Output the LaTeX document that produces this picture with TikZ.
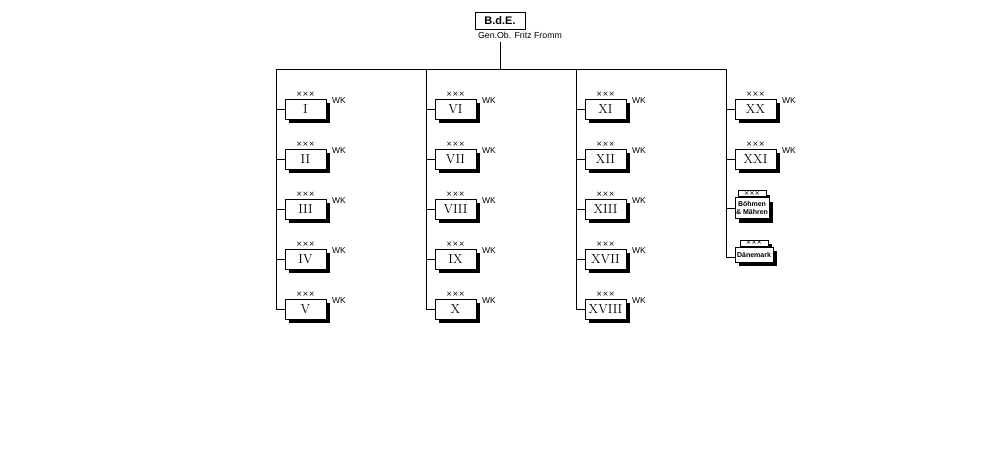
\documentclass[tikz,border=0pt]{standalone}
\usepackage{fontspec}
\newfontfamily\lsans{Liberation Sans}
\newfontfamily\dsans{DejaVu Sans}
\usetikzlibrary{shadows}
\begin{document}
\begin{tikzpicture}[x=1pt,y=-1pt,line width=1pt,
  shad/.style={general shadow={fill=black,shadow xshift=4pt,shadow yshift=-4pt}},
  corps/.style={draw,fill=white,minimum width=41pt,minimum height=20pt,inner sep=0pt,
    font=\fontsize{13}{13}\selectfont,shad},
  xxx/.style={font=\dsans\fontsize{7.5}{7.5}\selectfont,inner sep=0pt},
  wk/.style={font=\lsans\fontsize{8.5}{8.5}\selectfont,inner sep=0pt,anchor=north west},
  tag/.style={draw,fill=white,minimum width=28pt,minimum height=6pt,inner sep=0pt,
    font=\dsans\fontsize{6.5}{6.5}\selectfont,shad,anchor=south},
  wide/.style={draw,fill=white,inner sep=0pt,shad,
    font=\lsans\bfseries\fontsize{7}{7.6}\selectfont,align=center}]
\useasboundingbox[fill=white] (0,0) rectangle (1000,450);

% top
\node[draw,minimum width=50pt,minimum height=17pt,inner sep=0pt,
  font=\lsans\bfseries\fontsize{11}{11}\selectfont] (bde) at (500,21) {B.d.E.};
\node[font=\lsans\fontsize{8.8}{8.8}\selectfont,inner sep=0pt] (ff) at (520,35.5) {Gen.Ob. Fritz Fromm};
\coordinate (stem) at (500,42);
\coordinate (h0) at (276,69);
\coordinate (h1) at (426,69);
\coordinate (h2) at (576,69);
\coordinate (h3) at (726,69);
\draw (stem) -- (stem |- h0);
\draw (h0) -- (h3);

% corps
\foreach \lab/\c/\r in {I/0/0,II/0/1,III/0/2,IV/0/3,V/0/4,
  VI/1/0,VII/1/1,VIII/1/2,IX/1/3,X/1/4,
  XI/2/0,XII/2/1,XIII/2/2,XVII/2/3,XVIII/2/4,
  XX/3/0,XXI/3/1}{
  \node[corps] (k\c\r) at (305.5+150*\c,109+50*\r) {\lab};
  \node[xxx,above=2pt] (x\c\r) at (k\c\r.north) {×××};
  \node[wk] (w\c\r) at ([xshift=5pt,yshift=1pt]k\c\r.north east) {WK};
  \draw (k\c\r.west) -| (h\c);
}

% Boehmen & Maehren
\node[wide,minimum width=34pt,minimum height=21pt] (bm) at (752,208) {Böhmen\\\& Mähren};
\node[tag] (bmx) at (bm.north) {×××};
\node[wide,minimum width=34pt,minimum height=21pt] at (752,208) {Böhmen\\\& Mähren};
\draw (bm.west) -| (h3);

% Daenemark
\node[wide,minimum width=38pt,minimum height=15pt] (dan) at (754,254.5) {Dänemark};
\node[tag] (danx) at (dan.north) {×××};
\node[wide,minimum width=38pt,minimum height=15pt] at (754,254.5) {Dänemark};
\draw ([yshift=-2.5pt]dan.west) -| (h3);
\end{tikzpicture}
\end{document}
